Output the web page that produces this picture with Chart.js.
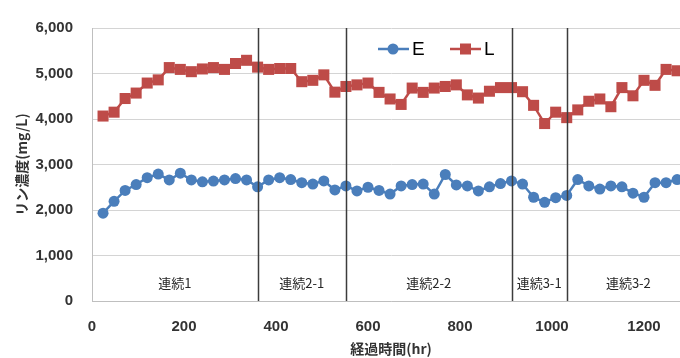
<!DOCTYPE html>
<html>
<head>
<meta charset="utf-8">
<script src="https://cdn.jsdelivr.net/npm/chart.js@4/dist/chart.umd.min.js"></script>
<style>
  html, body { margin: 0; padding: 0; background: #fff; overflow: hidden; }
  #wrap { width: 680px; height: 358px; overflow: hidden; }
</style>
</head>
<body>
<div id="wrap"><canvas id="chart" width="690" height="358"></canvas></div>
<script>
// elapsed time (hr)
const hours = [24, 48, 72, 96, 120, 144, 168, 192, 216, 240,
  264, 288, 312, 336, 360, 384, 408, 432, 456, 480,
  504, 528, 552, 576, 600, 624, 648, 672, 696, 720,
  744, 768, 792, 816, 840, 864, 888, 912, 936, 960,
  984, 1008, 1032, 1056, 1080, 1104, 1128, 1152, 1176, 1200,
  1224, 1248, 1272];

// phosphorus concentration (mg/L)
const valuesE = [1930, 2190, 2430, 2560, 2710, 2790, 2660, 2810, 2660, 2620,
  2635, 2660, 2690, 2660, 2510, 2660, 2710, 2670, 2600, 2570,
  2640, 2440, 2530, 2420, 2500, 2430, 2350, 2530, 2560, 2570,
  2350, 2780, 2550, 2530, 2420, 2510, 2580, 2640, 2570, 2280,
  2170, 2270, 2320, 2670, 2530, 2460, 2530, 2510, 2370, 2280,
  2600, 2600, 2670];

const valuesL = [4065, 4150, 4450, 4570, 4790, 4860, 5130, 5090, 5040, 5100,
  5130, 5090, 5220, 5290, 5140, 5090, 5110, 5110, 4820, 4850,
  4970, 4590, 4715, 4750, 4790, 4585, 4440, 4320, 4680, 4585,
  4680, 4715, 4750, 4530, 4460, 4610, 4690, 4690, 4600, 4300,
  3900, 4150, 4030, 4200, 4390, 4440, 4270, 4690, 4510, 4850,
  4740, 5090, 5060];

const seriesNames = ["E", "L"];

// run phases: boundaries (hr) and names
const phaseBounds = [0, 360, 552, 912, 1032, 1300];
const phaseNames = ["連続1", "連続2-1", "連続2-2", "連続3-1", "連続3-2"];

const blue = "#4a7ebb";
const red = "#be4b48";
const jpFont = "'Noto Sans CJK JP', 'Noto Sans', sans-serif";
const numFont = "'Liberation Sans', Arial, sans-serif";

// vertical phase lines + phase names
const phasePlugin = {
  id: "phases",
  afterDatasetsDraw(chart) {
    const { ctx, chartArea, scales: { x } } = chart;
    ctx.save();
    ctx.strokeStyle = "#3c3c3c";
    ctx.lineWidth = 1.5;
    for (let i = 1; i < phaseBounds.length - 1; i++) {
      const px = Math.round(x.getPixelForValue(phaseBounds[i])) + 0.5;
      ctx.beginPath();
      ctx.moveTo(px, chartArea.top);
      ctx.lineTo(px, chartArea.bottom);
      ctx.stroke();
    }
    ctx.fillStyle = "#262626";
    ctx.font = "13px " + jpFont;
    ctx.textAlign = "center";
    ctx.textBaseline = "middle";
    for (let i = 0; i < phaseNames.length; i++) {
      const mid = (x.getPixelForValue(phaseBounds[i]) + x.getPixelForValue(phaseBounds[i + 1])) / 2;
      ctx.fillText(phaseNames[i], mid, chartArea.bottom - 18);
    }
    ctx.restore();
  }
};

// excel-like legend: line + marker + name, inside the plot
const legendPlugin = {
  id: "lineLegend",
  afterDraw(chart) {
    const { ctx } = chart;
    const y = 49;
    const items = [{ x: 378 }, { x: 450 }];
    ctx.save();
    chart.data.datasets.forEach((ds, i) => {
      const x0 = items[i].x;
      ctx.strokeStyle = ds.borderColor;
      ctx.lineWidth = 2.5;
      ctx.beginPath();
      ctx.moveTo(x0, y);
      ctx.lineTo(x0 + 31, y);
      ctx.stroke();
      ctx.fillStyle = ds.borderColor;
      if (ds.pointStyle === "rect") {
        ctx.fillRect(x0 + 10, y - 5.5, 11, 11);
      } else {
        ctx.beginPath();
        ctx.arc(x0 + 15, y, 5.5, 0, Math.PI * 2);
        ctx.fill();
      }
      ctx.fillStyle = "#000";
      ctx.font = "19px " + numFont;
      ctx.textAlign = "left";
      ctx.textBaseline = "middle";
      ctx.fillText(ds.label, x0 + 34, y + 1);
    });
    ctx.restore();
  }
};

new Chart(document.getElementById("chart"), {
  type: "line",
  data: {
    datasets: [
      {
        label: seriesNames[0],
        data: hours.map((h, i) => ({ x: h, y: valuesE[i] })),
        borderColor: blue,
        backgroundColor: blue,
        borderWidth: 2.5,
        pointStyle: "circle",
        pointRadius: 5.5,
        pointBorderWidth: 0,
        tension: 0
      },
      {
        label: seriesNames[1],
        data: hours.map((h, i) => ({ x: h, y: valuesL[i] })),
        borderColor: red,
        backgroundColor: red,
        borderWidth: 2.5,
        pointStyle: "rect",
        pointRadius: 7.8,
        pointBorderWidth: 0,
        tension: 0
      }
    ]
  },
  options: {
    responsive: false,
    animation: false,
    devicePixelRatio: 1,
    layout: { autoPadding: false, padding: { top: 24, left: 0, right: 0, bottom: 0 } },
    plugins: { legend: { display: false }, tooltip: { enabled: false } },
    scales: {
      x: {
        type: "linear",
        min: 0,
        max: 1300,
        afterFit: s => { s.height = 57; s.paddingLeft = 0; s.paddingRight = 0; },
        grid: { display: false, drawTicks: false },
        border: { display: true, color: "#bfbfbf" },
        ticks: {
          stepSize: 200,
          includeBounds: false,
          padding: 17,
          maxRotation: 0,
          color: "#333",
          font: { family: numFont, size: 15, weight: "bold" },
          callback: v => String(v)
        },
        title: {
          display: true,
          text: "経過時間(hr)",
          color: "#333",
          padding: { top: 0, bottom: 1 },
          font: { family: jpFont, size: 14, weight: "bold" }
        }
      },
      y: {
        min: 0,
        max: 6000,
        afterFit: s => { s.width = 92; },
        grid: { color: "#d4d4d4", drawTicks: false },
        border: { display: true, color: "#bfbfbf" },
        ticks: {
          stepSize: 1000,
          padding: 19,
          color: "#333",
          font: { family: numFont, size: 15, weight: "bold" },
          callback: v => v.toLocaleString("en-US")
        },
        title: {
          display: true,
          text: "リン濃度(mg/L)",
          color: "#333",
          padding: { top: 13, bottom: 0 },
          font: { family: jpFont, size: 14, weight: "bold" }
        }
      }
    }
  },
  plugins: [phasePlugin, legendPlugin]
});
</script>
</body>
</html>
